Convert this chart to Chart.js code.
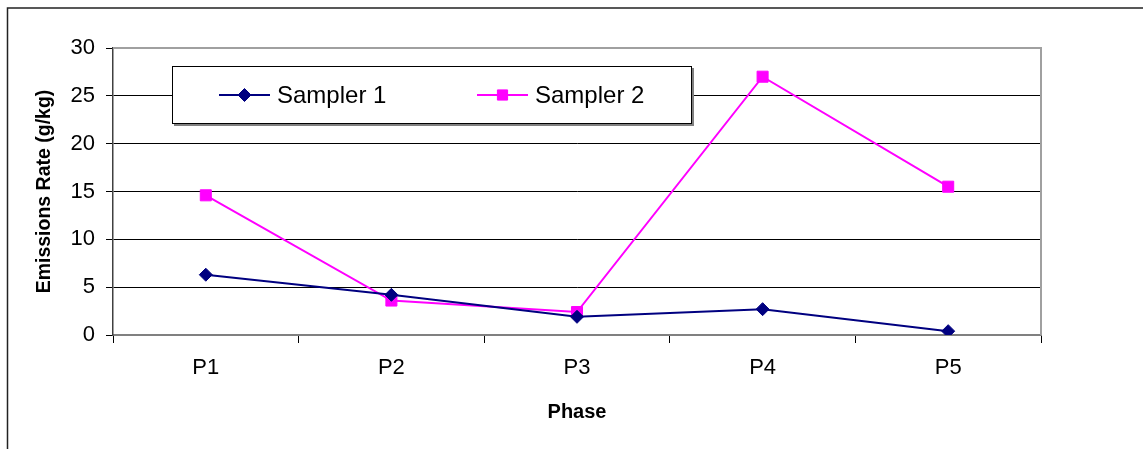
<!DOCTYPE html>
<html>
<head>
<meta charset="utf-8">
<script src="https://cdn.jsdelivr.net/npm/chart.js@4/dist/chart.umd.min.js"></script>
<style>
  html, body { margin: 0; padding: 0; background: #fff; overflow: hidden; }
  #wrap { position: relative; width: 1143px; height: 449px; }
</style>
</head>
<body>
<div id="wrap"><canvas id="chart" width="1143" height="449"></canvas></div>
<script>
// chart data
const phases = ['P1', 'P2', 'P3', 'P4', 'P5'];
const sampler1 = [6.3, 4.2, 1.9, 2.7, 0.4];
const sampler2 = [14.6, 3.6, 2.4, 27.0, 15.5];
const yTicks = [0, 5, 10, 15, 20, 25, 30];

const FONT = "'Liberation Sans', Arial, sans-serif";

// outer frame, plot frame (top + right) and the boxed legend
const framePlugin = {
    id: 'frame',
    beforeDraw(chart) {
        const ctx = chart.ctx;
        ctx.save();
        ctx.strokeStyle = '#222';
        ctx.lineWidth = 1.5;
        ctx.strokeRect(7.5, 8, 1300, 600);
        ctx.restore();
    },
    afterDatasetsDraw(chart) {
        const ctx = chart.ctx;
        const a = chart.chartArea;
        ctx.save();
        ctx.strokeStyle = '#a0a0a0';
        ctx.lineWidth = 2;
        ctx.beginPath();
        ctx.moveTo(a.left, a.top);
        ctx.lineTo(a.right, a.top);
        ctx.lineTo(a.right, a.bottom);
        ctx.stroke();
        ctx.restore();
    },
    afterDraw(chart) {
        const ctx = chart.ctx;
        const box = { x: 172, y: 66, w: 520, h: 58 };
        ctx.save();
        // shadow
        ctx.fillStyle = '#808080';
        ctx.fillRect(box.x + 2, box.y + 2, box.w, box.h);
        ctx.fillStyle = '#fff';
        ctx.fillRect(box.x, box.y, box.w, box.h);
        ctx.strokeStyle = '#000';
        ctx.lineWidth = 1;
        ctx.strokeRect(box.x + 0.5, box.y + 0.5, box.w - 1, box.h - 1);

        const items = [
            { x: 219, ds: chart.data.datasets[0], r: 6.5 },
            { x: 477, ds: chart.data.datasets[1], r: 7.2 }
        ];
        const cy = 95;
        items.forEach(it => {
            const ds = it.ds;
            ctx.strokeStyle = ds.borderColor;
            ctx.lineWidth = ds.borderWidth;
            ctx.beginPath();
            ctx.moveTo(it.x, cy);
            ctx.lineTo(it.x + 51, cy);
            ctx.stroke();
            ctx.fillStyle = ds.pointBackgroundColor;
            ctx.strokeStyle = ds.pointBorderColor;
            ctx.lineWidth = 1;
            Chart.helpers.drawPoint(ctx, {
                pointStyle: ds.pointStyle,
                radius: it.r,
                borderWidth: 1
            }, it.x + 25.5, cy);
            ctx.fillStyle = '#000';
            ctx.font = '24px ' + FONT;
            ctx.textBaseline = 'middle';
            ctx.fillText(ds.label, it.x + 58, cy + 1);
        });
        ctx.restore();
    }
};

new Chart(document.getElementById('chart'), {
    type: 'line',
    data: {
        labels: phases,
        datasets: [
            {
                label: 'Sampler 1',
                data: sampler1,
                borderColor: '#000080',
                backgroundColor: '#000080',
                borderWidth: 2,
                pointStyle: 'rectRot',
                pointRadius: 6.5,
                pointBorderWidth: 1,
                pointBorderColor: '#000080',
                pointBackgroundColor: '#000080',
                tension: 0
            },
            {
                label: 'Sampler 2',
                data: sampler2,
                borderColor: '#ff00ff',
                backgroundColor: '#ff00ff',
                borderWidth: 2,
                pointStyle: 'rect',
                pointRadius: 7.8,
                pointBorderWidth: 1,
                pointBorderColor: '#ff00ff',
                pointBackgroundColor: '#ff00ff',
                tension: 0
            }
        ]
    },
    options: {
        responsive: false,
        animation: false,
        events: [],
        layout: { padding: { left: 0, top: 48, right: 102, bottom: 0 } },
        plugins: {
            legend: { display: false },
            tooltip: { enabled: false }
        },
        scales: {
            x: {
                offset: true,
                afterFit(scale) { scale.height = 114; },
                grid: {
                    offset: true,
                    drawOnChartArea: false,
                    drawTicks: true,
                    tickLength: 8,
                    color: '#000'
                },
                border: { color: '#808080', width: 2 },
                ticks: {
                    color: '#000',
                    font: { family: FONT, size: 22 },
                    padding: 12,
                    maxRotation: 0
                },
                title: {
                    display: true,
                    text: 'Phase',
                    color: '#000',
                    font: { family: FONT, size: 20, weight: 'bold' },
                    padding: { top: 0, bottom: 25 }
                }
            },
            y: {
                min: 0,
                max: 30,
                afterFit(scale) { scale.width = 113; },
                afterBuildTicks(scale) { scale.ticks = yTicks.map(v => ({ value: v })); },
                grid: {
                    color: ctx => (ctx.tick && (ctx.tick.value === 30 || ctx.tick.value === 0)) ? '#a0a0a0' : '#000',
                    tickColor: '#000',
                    tickLength: 7,
                    lineWidth: 1
                },
                border: { color: '#404040', width: 1.5 },
                ticks: {
                    color: '#000',
                    font: { family: FONT, size: 22 },
                    padding: 11
                },
                title: {
                    display: true,
                    text: 'Emissions Rate (g/kg)',
                    color: '#000',
                    font: { family: FONT, size: 19.5, weight: 'bold' },
                    padding: { top: 33, bottom: 0 }
                }
            }
        }
    },
    plugins: [framePlugin]
});
</script>
</body>
</html>
